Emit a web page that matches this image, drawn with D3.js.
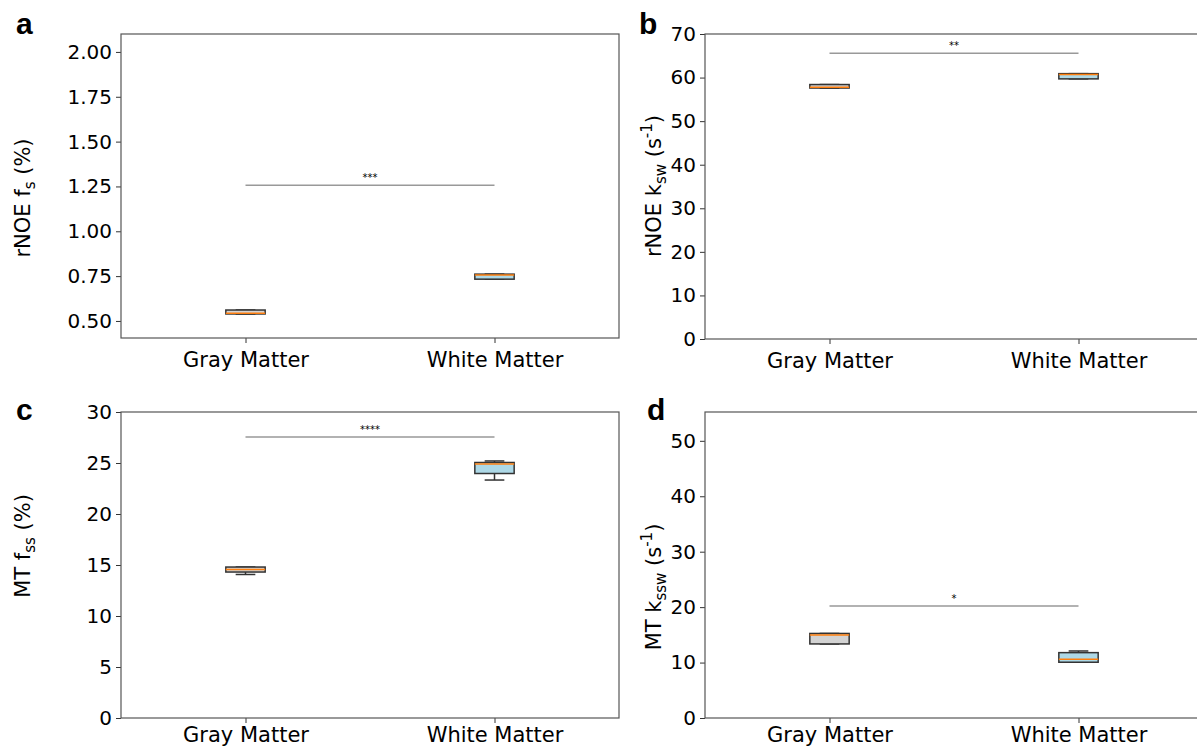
<!DOCTYPE html>
<html>
<head>
<meta charset="utf-8">
<script src="https://cdn.jsdelivr.net/npm/d3@7"></script>
<style>
  body { margin: 0; background: #fff; }
  svg { display: block; font-family: "DejaVu Sans", sans-serif; }
</style>
</head>
<body>
<div id="chart"></div>
<script>
const WIDTH = 1197;
const HEIGHT = 752;

const categories = ['Gray Matter', 'White Matter'];

// each box: [lower whisker, q1, median, q3, upper whisker]
const rnoeFs = [[0.539, 0.539, 0.543, 0.561, 0.561], [0.733, 0.733, 0.756, 0.761, 0.761]];
const rnoeKsw = [[57.6, 57.6, 57.8, 58.4, 58.4], [59.7, 59.7, 60.7, 60.9, 60.9]];
const mtFss = [[14.07, 14.31, 14.56, 14.8, 14.8], [23.33, 23.97, 24.9, 25.05, 25.2]];
const mtKssw = [[13.36, 13.36, 14.98, 15.25, 15.25], [10.06, 10.06, 10.6, 11.79, 12.09]];

const sigLevels = [1.256, 65.6, 27.55, 20.2];
const sigStars = ['***', '**', '****', '*'];

const fsTicks = [0.5, 0.75, 1.0, 1.25, 1.5, 1.75, 2.0];
const kswTicks = [0, 10, 20, 30, 40, 50, 60, 70];
const fssTicks = [0, 5, 10, 15, 20, 25, 30];
const ksswTicks = [0, 10, 20, 30, 40, 50];

const yDomains = [[0.405, 2.1], [0, 70], [0, 30], [0, 55.2]];
const panelLetters = ['a', 'b', 'c', 'd'];

const boxFills = ['#d3d3d3', '#add8e6'];
const BOX_W = 0.158;

// label pieces: [text, 'n' | 'sub' | 'sup']
const yLabels = [
  [['rNOE f', 'n'], ['s', 'sub'], [' (%)', 'n']],
  [['rNOE k', 'n'], ['sw', 'sub'], [' (s', 'n'], ['-1', 'sup'], [')', 'n']],
  [['MT f', 'n'], ['ss', 'sub'], [' (%)', 'n']],
  [['MT k', 'n'], ['ssw', 'sub'], [' (s', 'n'], ['-1', 'sup'], [')', 'n']]
];

const layouts = [
  { left: 121, right: 619, top: 34, bottom: 338, pad: 9, lx: 30, ly: 198, letterX: 16, letterY: 34 },
  { left: 705, right: 1203, top: 34, bottom: 339, pad: 9, lx: 661, ly: 186, letterX: 639, letterY: 34 },
  { left: 121, right: 619, top: 412, bottom: 718, pad: 4, lx: 30, ly: 546, letterX: 16, letterY: 420 },
  { left: 705, right: 1203, top: 412, bottom: 718, pad: 4, lx: 661, ly: 587, letterX: 647, letterY: 420 }
];

const panels = [rnoeFs, rnoeKsw, mtFss, mtKssw].map((boxes, i) => ({
  boxes,
  ticks: [fsTicks, kswTicks, fssTicks, ksswTicks][i],
  fmt: i === 0 ? d3.format('.2f') : d3.format('d'),
  domain: yDomains[i],
  sig: sigLevels[i],
  stars: sigStars[i],
  label: yLabels[i],
  letter: panelLetters[i],
  ...layouts[i]
}));

const svg = d3.select('#chart').append('svg')
  .attr('width', WIDTH)
  .attr('height', HEIGHT);

panels.forEach(p => {
  const x = d3.scaleLinear().domain([0.5, 2.5]).range([p.left, p.right]);
  const y = d3.scaleLinear().domain(p.domain).range([p.bottom, p.top]);
  const g = svg.append('g');

  // sig bar
  g.append('line')
    .attr('x1', x(1)).attr('x2', x(2))
    .attr('y1', y(p.sig)).attr('y2', y(p.sig))
    .attr('stroke', '#999').attr('stroke-width', 1.5);
  g.append('text')
    .attr('x', (x(1) + x(2)) / 2)
    .attr('y', y(p.sig) - 4)
    .attr('text-anchor', 'middle')
    .attr('font-size', 10)
    .text(p.stars);

  // boxes
  p.boxes.forEach((b, i) => {
    const cx = x(i + 1);
    const half = (x(1 + BOX_W / 2) - x(1));
    const bg = g.append('g');
    // whiskers
    [[b[0], b[1]], [b[3], b[4]]].forEach(([w, q]) => {
      if (w === q) return;
      bg.append('line').attr('x1', cx).attr('x2', cx)
        .attr('y1', y(w)).attr('y2', y(q))
        .attr('stroke', '#333').attr('stroke-width', 1.5);
    });
    [b[0], b[4]].forEach(w => {
      bg.append('line').attr('x1', cx - half / 2).attr('x2', cx + half / 2)
        .attr('y1', y(w)).attr('y2', y(w))
        .attr('stroke', '#333').attr('stroke-width', 1.5);
    });
    bg.append('rect')
      .attr('x', cx - half).attr('width', half * 2)
      .attr('y', y(b[3])).attr('height', Math.max(1, y(b[1]) - y(b[3])))
      .attr('fill', boxFills[i])
      .attr('stroke', '#333').attr('stroke-width', 1.5);
    bg.append('line')
      .attr('x1', cx - half).attr('x2', cx + half)
      .attr('y1', y(b[2])).attr('y2', y(b[2]))
      .attr('stroke', '#ff7f0e').attr('stroke-width', 1.5);
  });

  // axes
  const ya = g.append('g')
    .attr('transform', `translate(${p.left},0)`)
    .call(d3.axisLeft(y).tickValues(p.ticks).tickFormat(p.fmt).tickSize(5).tickPadding(4));
  const xa = g.append('g')
    .attr('transform', `translate(0,${p.bottom})`)
    .call(d3.axisBottom(x).tickValues([1, 2]).tickFormat(v => categories[v - 1]).tickSize(5).tickPadding(p.pad));
  [ya, xa].forEach(a => {
    a.select('.domain').remove();
    a.selectAll('text').attr('fill', '#000').attr('font-family', '"DejaVu Sans", sans-serif');
    a.selectAll('line').attr('stroke', '#333');
  });
  ya.selectAll('text').attr('font-size', 20);
  xa.selectAll('text').attr('font-size', 21);

  // frame
  g.append('rect')
    .attr('x', p.left).attr('y', p.top)
    .attr('width', p.right - p.left).attr('height', p.bottom - p.top)
    .attr('fill', 'none').attr('stroke', '#555').attr('stroke-width', 1.2);

  // y label
  const t = g.append('text')
    .attr('transform', `translate(${p.lx},${p.ly}) rotate(-90)`)
    .attr('text-anchor', 'middle')
    .attr('font-size', 21);
  let shift = 0;
  p.label.forEach(([s, kind]) => {
    const target = kind === 'sub' ? 5 : kind === 'sup' ? -9 : 0;
    t.append('tspan')
      .attr('dy', target - shift)
      .attr('font-size', kind === 'n' ? 21 : 15)
      .text(s);
    shift = target;
  });

  // panel letter
  g.append('text')
    .attr('x', p.letterX).attr('y', p.letterY)
    .attr('font-size', 30).attr('font-weight', 'bold')
    .attr('font-family', '"Liberation Sans", Arial, sans-serif')
    .text(p.letter);
});
</script>
</body>
</html>
